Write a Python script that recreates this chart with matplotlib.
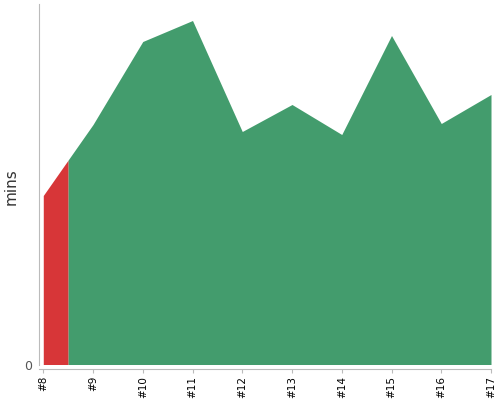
import numpy as np
import matplotlib
matplotlib.use('Agg')
import matplotlib.pyplot as plt

builds = ['#8', '#9', '#10', '#11', '#12', '#13', '#14', '#15', '#16', '#17']
mins = [16.9, 24.0, 32.3, 34.4, 23.3, 26.0, 23.0, 32.9, 24.1, 27.0]
status = ['failed', 'ok', 'ok', 'ok', 'ok', 'ok', 'ok', 'ok', 'ok', 'ok']
colors = {'failed': '#d73638', 'ok': '#439c6d'}

fig = plt.figure(figsize=(5, 4), dpi=100)
ax = fig.add_axes([39.3 / 500, 31 / 400, (491 - 39.3) / 500, 365 / 400])

x = np.arange(len(builds))
# each build owns the area half way to its neighbours, runs of same status drawn together
i = 0
while i < len(builds):
    j = i
    while j + 1 < len(builds) and status[j + 1] == status[i]:
        j += 1
    lo = max(x[i] - 0.5, x[0])
    hi = min(x[j] + 0.5, x[-1])
    xs = [lo] + [v for v in x if lo < v < hi] + [hi]
    ys = np.interp(xs, x, mins)
    ax.fill_between(xs, 0, ys, color=colors[status[i]], linewidth=0)
    i = j + 1

ax.set_xlim(-0.08, x[-1])
ax.set_ylim(-0.45, 36.05)
ax.set_xticks(x)
ax.set_xticklabels(builds, rotation=90, fontsize=7.5)
ax.set_yticks([0])
ax.set_yticklabels(['0'], fontsize=9, color='#555555')
ax.tick_params(axis='x', length=3, color='#bbbbbb', pad=2)
ax.tick_params(axis='y', length=0, pad=5)
ax.set_ylabel('mins', fontsize=11, color='#333333')
ax.yaxis.set_label_coords(-(39.3 - 19) / 451.7, 0.5)

for s in ['top', 'right']:
    ax.spines[s].set_visible(False)
ax.spines['left'].set_color('#bbbbbb')
ax.spines['bottom'].set_color('#bbbbbb')
ax.spines['left'].set_bounds(0, 36.05)

plt.savefig('out.png')
